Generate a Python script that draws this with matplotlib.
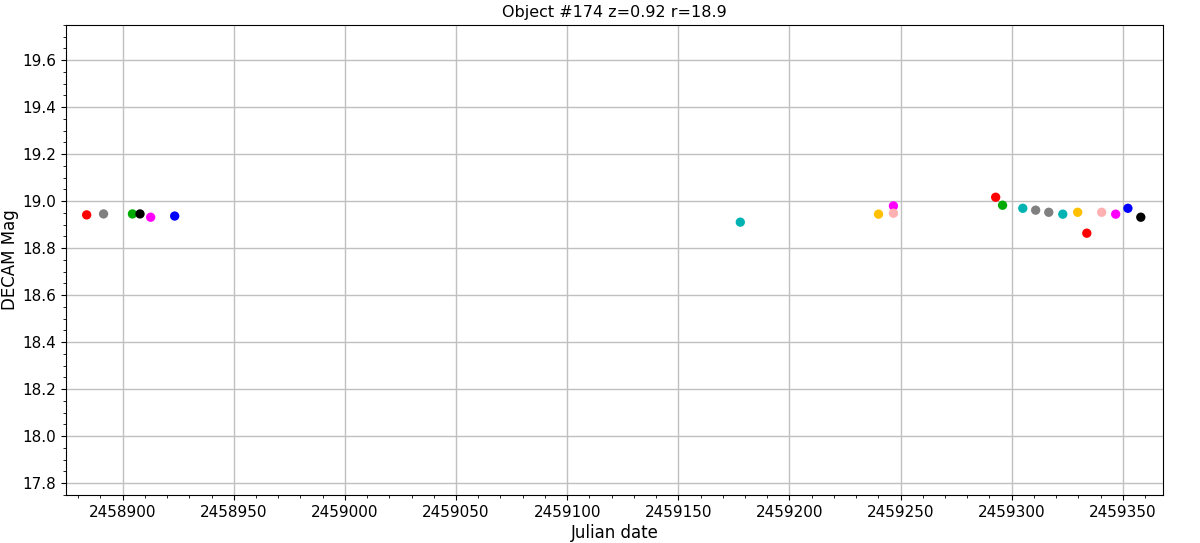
import numpy as np
import matplotlib
matplotlib.use("Agg")
from matplotlib import pyplot as plt

# observations: julian date, magnitude, colour of each point
jd = [2458883.8, 2458891.4, 2458904.4, 2458907.8, 2458912.6, 2458923.4,
      2459177.9, 2459240.1, 2459246.8, 2459246.8,
      2459292.8, 2459295.9, 2459305.0, 2459310.8, 2459316.7, 2459323.0,
      2459329.7, 2459333.8, 2459340.5, 2459346.8, 2459352.3, 2459358.1]
mag = [18.942, 18.946, 18.946, 18.946, 18.932, 18.937,
       18.911, 18.945, 18.980, 18.949,
       19.017, 18.983, 18.970, 18.962, 18.953, 18.945,
       18.953, 18.864, 18.953, 18.945, 18.970, 18.932]
colors = ['#ff0000', '#808080', '#00aa00', '#000000', '#ff00ff', '#0000ff',
          '#00b3b3', '#ffc000', '#ff00ff', '#ffb0b0',
          '#ff0000', '#00aa00', '#00b3b3', '#808080', '#808080', '#00b3b3',
          '#ffc000', '#ff0000', '#ffb0b0', '#ff00ff', '#0000ff', '#000000']

fig = plt.figure(figsize=(12, 5.43), dpi=100)
ax = fig.add_axes([0.055, 0.0884, 0.914, 0.8656])

ax.scatter(jd, mag, c=colors, s=45, zorder=3, linewidths=0)

ax.set_xlim(2458874.5, 2459368)
ax.set_ylim(17.75, 19.75)
ax.set_xticks(np.arange(2458900, 2459351, 50))
ax.set_yticks(np.arange(17.8, 19.61, 0.2))
ax.minorticks_on()
ax.ticklabel_format(axis='x', useOffset=False, style='plain')
ax.grid(True, which='major', color='#c0c0c0', linewidth=1)
ax.tick_params(labelsize=11)

ax.set_xlabel("Julian date", fontsize=12, labelpad=3)
ax.set_ylabel("DECAM Mag", fontsize=12, labelpad=2)
ax.set_title("Object #174 z=0.92 r=18.9", fontsize=11.5)

fig.savefig("out.png", dpi=100)
